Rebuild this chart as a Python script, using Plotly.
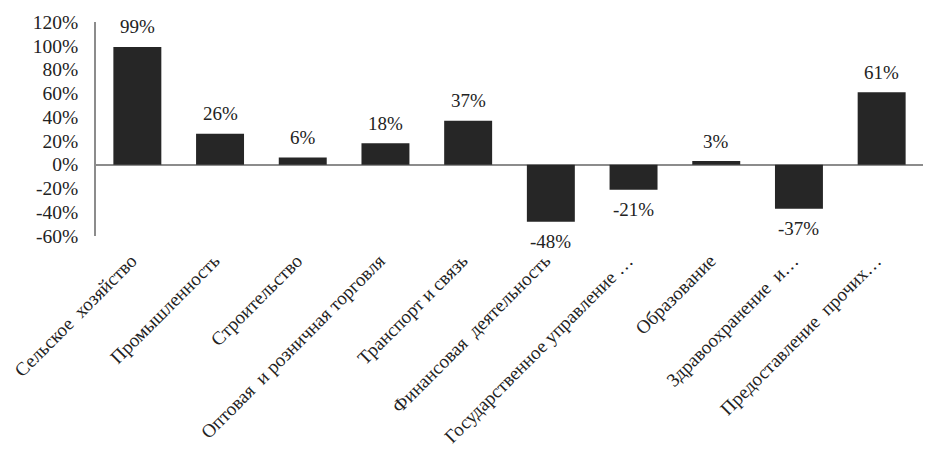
import plotly.graph_objects as go

categories = [
    "Сельское  хозяйство",
    "Промышленность",
    "Строительство",
    "Оптовая  и розничная торговля",
    "Транспорт и связь",
    "Финансовая  деятельность",
    "Государственное управление …",
    "Образование",
    "Здравоохранение  и…",
    "Предоставление  прочих…",
]
values = [99, 26, 6, 18, 37, -48, -21, 3, -37, 61]
tick_vals = [-60, -40, -20, 0, 20, 40, 60, 80, 100, 120]
tick_text = [f"{v}%" for v in tick_vals]
labels = [f"{v}%" for v in values]

FONT = "Liberation Serif, Times New Roman, serif"
INK = "#222222"

fig = go.Figure(
    go.Bar(
        x=categories,
        y=values,
        marker=dict(color="#262626", line=dict(width=0)),
        width=0.58,
        cliponaxis=False,
    )
)

for c, v, t in zip(categories, values, labels):
    fig.add_annotation(
        x=c, y=v, text=t, showarrow=False,
        yshift=20 if v >= 0 else -20,
        font=dict(family=FONT, size=19, color=INK),
    )

# page body has an 8px default margin; compensate so the plot lands where the reference has it
fig.update_layout(
    width=936,
    height=454,
    margin=dict(l=88, r=21, t=14, b=226),
    plot_bgcolor="white",
    paper_bgcolor="white",
    showlegend=False,
    font=dict(family=FONT, size=19, color=INK),
)
fig.update_xaxes(
    tickangle=-45,
    showline=False,
    showgrid=False,
    ticks="",
    automargin=False,
    ticklabelshift=-6,
    ticklabelstandoff=9,
    tickfont=dict(family=FONT, size=19, color=INK),
)
fig.update_yaxes(
    range=[-60, 120],
    tickvals=tick_vals,
    ticktext=tick_text,
    showgrid=False,
    showline=True,
    linecolor="#8c8c8c",
    linewidth=1.5,
    zeroline=True,
    zerolinecolor="#8c8c8c",
    zerolinewidth=1.5,
    ticks="",
    automargin=False,
    ticklabelstandoff=12,
    tickfont=dict(family=FONT, size=19.5, color=INK),
)

fig.write_html("out.html")
